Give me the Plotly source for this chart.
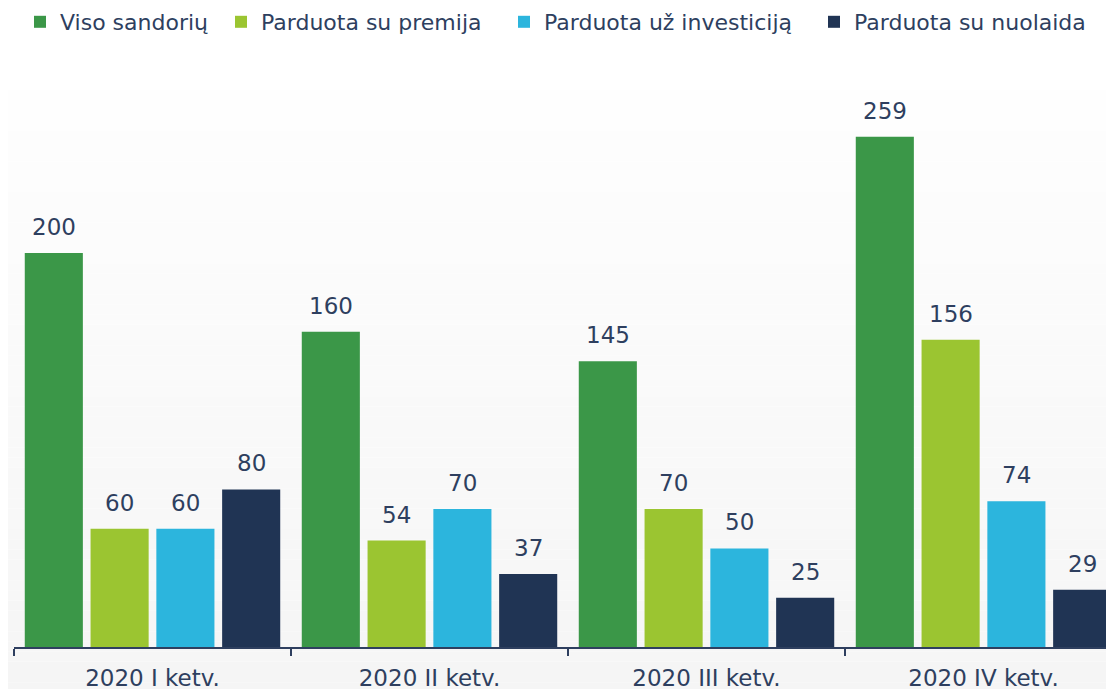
import plotly.graph_objects as go

categories = ["2020 I ketv.", "2020 II ketv.", "2020 III ketv.", "2020 IV ketv."]
series_names = ["Viso sandorių", "Parduota su premija", "Parduota už investiciją", "Parduota su nuolaida"]
viso = [200, 160, 145, 259]
premija = [60, 54, 70, 156]
investicija = [60, 70, 50, 74]
nuolaida = [80, 37, 25, 29]
colors = ["#3b9748", "#9bc531", "#2cb5dd", "#203454"]

TEXT = "#2e3f5f"
FONT = "DejaVu Sans"
BARGAP = 0.05
BARGROUPGAP = 0.117

fig = go.Figure()
all_series = [viso, premija, investicija, nuolaida]
legend_ids = ["legend", "legend2", "legend3", "legend4"]
for name, vals, col, lg in zip(series_names, all_series, colors, legend_ids):
    fig.add_trace(go.Bar(
        x=categories, y=vals, name=name, marker=dict(color=col, line=dict(width=0)),
        legend=lg,
    ))

# value labels above bars (positioned in data coords of each bar's slot)
annotations = []
n_series = len(all_series)
slot = (1 - BARGAP) / n_series
for i, vals in enumerate(all_series):
    off = (i - (n_series - 1) / 2) * slot
    for j, v in enumerate(vals):
        annotations.append(dict(x=j + off, y=v, xref="x", yref="y", text=str(v), showarrow=False,
                                yanchor="bottom", yshift=11,
                                font=dict(size=23, color=TEXT, family=FONT)))

# gradient background bands
shapes = []
n = 60
y0, y1 = -0.1, 1.0
for i in range(n):
    a = y0 + (y1 - y0) * i / n
    b = y0 + (y1 - y0) * (i + 1) / n
    t = i / (n - 1)
    v = int(round(245 + (254 - 245) * t))
    shapes.append(dict(type="rect", xref="paper", yref="paper", x0=-0.02, x1=1.02, y0=a, y1=b,
                       fillcolor=f"rgb({v},{v},{v})", line=dict(width=0), layer="below"))

leg_x = [12, 213, 496, 806]
legends = {}
for lg, lx in zip(legend_ids, leg_x):
    legends[lg] = dict(orientation="h", x=lx / 1114, xref="container", xanchor="left",
                       y=1 - 14 / 689, yref="container", yanchor="middle",
                       font=dict(size=22, color=TEXT, family=FONT), itemwidth=30,
                       bgcolor="rgba(0,0,0,0)", itemclick=False, itemdoubleclick=False)

fig.update_layout(
    width=1114, height=689,
    margin=dict(l=6, r=0, t=82, b=50, autoexpand=False),
    paper_bgcolor="white", plot_bgcolor="rgba(0,0,0,0)",
    barmode="group", bargap=BARGAP, bargroupgap=BARGROUPGAP,
    shapes=shapes, annotations=annotations,
    font=dict(family=FONT, color=TEXT, size=22),
    showlegend=True,
    **legends,
)
fig.update_xaxes(range=[-0.5, 3.5], showline=True, linecolor=TEXT, linewidth=2,
                 ticks="outside", tickson="boundaries", ticklen=7, tickcolor=TEXT, tickwidth=2,
                 ticklabelstandoff=9,
                 tickfont=dict(size=23, color=TEXT, family=FONT), showgrid=False)
fig.update_yaxes(range=[0, 282.7], visible=False, showgrid=False, zeroline=False)

fig.write_html("out.html")
